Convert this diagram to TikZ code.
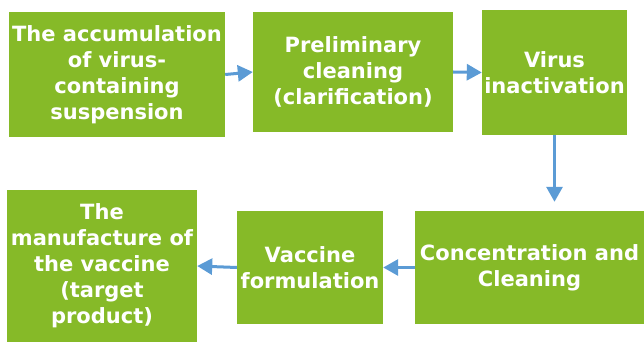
\documentclass[tikz,border=0pt]{standalone}
\usepackage{fontspec}
\setmainfont{DejaVu Sans}
\usetikzlibrary{arrows.meta,calc}
\definecolor{boxgreen}{RGB}{134,186,40}
\definecolor{arrblue}{RGB}{91,155,213}
\tikzset{
  stepbox/.style={fill=boxgreen, draw=none, text=white, align=center, inner sep=0pt,
    font=\fontsize{21}{26}\selectfont\bfseries},
  flow/.style={draw=arrblue, line width=3pt, -{Triangle[length=15pt,width=16pt]}}
}
\begin{document}
\begin{tikzpicture}[x=1pt,y=-1pt]
\useasboundingbox (0,0) rectangle (644,342);
\node[stepbox, minimum width=216pt, minimum height=125pt] (b1) at (117,74.5) {The accumulation\\of virus-\\containing\\suspension};
\node[stepbox, minimum width=200pt, minimum height=120pt] (b2) at (353,72) {Preliminary\\cleaning\\(clarification)};
\node[stepbox, minimum width=145pt, minimum height=125pt] (b3) at (554.5,72.5) {Virus\\inactivation};
\node[stepbox, minimum width=229pt, minimum height=113pt] (b4) at (529.5,267.5) {Concentration and\\Cleaning};
\node[stepbox, minimum width=146pt, minimum height=113pt] (b5) at (310,267.5) {Vaccine\\formulation};
\node[stepbox, minimum width=190pt, minimum height=152pt] (b6) at (102,266) {The\\manufacture of\\the vaccine\\(target\\product)};
\draw[flow] (b1.east) -- (b2.west);
\draw[flow] (b2.east) -- (b3.west);
\draw[flow, shorten >=9pt] (b3.south) -- (b3.south |- b4.north);
\draw[flow] (b4.west) -- (b5.east);
\draw[flow] (b5.west) -- (b6.east);
\end{tikzpicture}
\end{document}
